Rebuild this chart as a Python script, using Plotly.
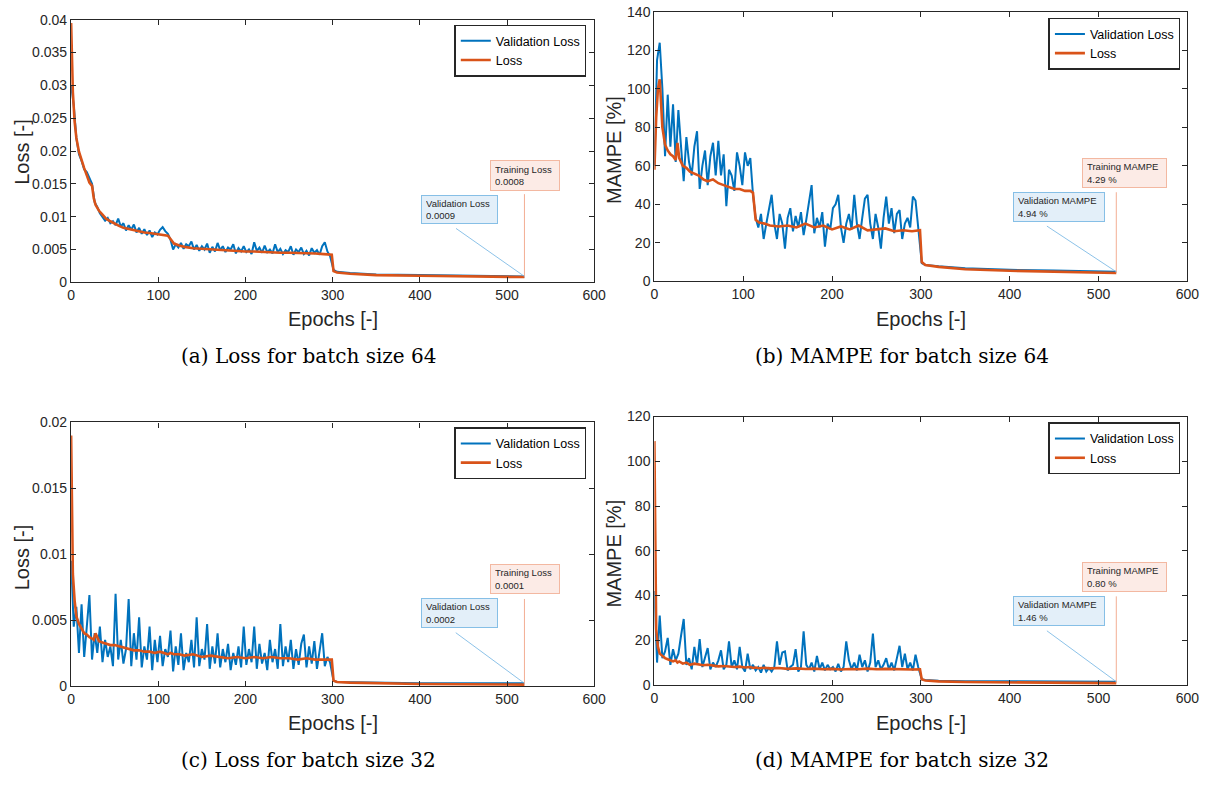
import plotly.graph_objects as go

# ---------------- data ----------------
VAL_STEP = 3  # validation samples every 3 epochs for epochs 0..297
POST_EPOCHS = [301, 305, 320, 350, 400, 450, 500, 520]

TRAIN_EPOCHS = [0, 1, 2, 4, 6, 9, 12, 15, 18, 21,
                24, 26, 28, 32, 36, 40, 45, 50, 55, 60,
                66, 72, 78, 84, 90, 96, 102, 108, 111, 114,
                118, 124, 130, 140, 150, 160, 170, 180, 190, 200,
                210, 220, 230, 240, 250, 260, 270, 280, 290, 299,
                301, 305, 320, 350, 400, 450, 500, 520]

# (a) Loss, batch 64
A_VAL_EARLY = [0.030, 0.027, 0.022, 0.0195, 0.0185, 0.0172, 0.0168, 0.0160, 0.0150, 0.0122,
               0.0115, 0.0105, 0.0100, 0.0094, 0.0098, 0.0090, 0.0093, 0.0087, 0.0097, 0.0085,
               0.0090, 0.0079, 0.0087, 0.0080, 0.0088, 0.0076, 0.0083, 0.0074, 0.0081, 0.0072,
               0.0079, 0.0069, 0.0076, 0.0073, 0.0080, 0.0084, 0.0078, 0.0074, 0.0065, 0.0050,
               0.0058, 0.0053, 0.0060, 0.0051, 0.0058, 0.0055, 0.0062, 0.0050, 0.0057, 0.0048,
               0.0055, 0.0050, 0.0059, 0.0045, 0.0054, 0.0047, 0.0060, 0.0049, 0.0055, 0.0046,
               0.0053, 0.0050, 0.0058, 0.0044, 0.0052, 0.0047, 0.0055, 0.0046, 0.0050, 0.0043,
               0.0061, 0.0048, 0.0053, 0.0045, 0.0056, 0.0046, 0.0050, 0.0044, 0.0058, 0.0046,
               0.0051, 0.0043, 0.0049, 0.0046, 0.0055, 0.0042, 0.0050, 0.0046, 0.0053, 0.0043,
               0.0048, 0.0041, 0.0052, 0.0045, 0.0049, 0.0042, 0.0055, 0.0061, 0.0047, 0.0040]
A_VAL_POST = [0.0019, 0.0016, 0.0014, 0.0012, 0.0011, 0.0010, 0.0009, 0.0009]
A_TRAIN = [0.0395, 0.033, 0.029, 0.0245, 0.022, 0.0199, 0.0185, 0.0174, 0.0163, 0.0152,
           0.0147, 0.0128, 0.0118, 0.0109, 0.0103, 0.0097, 0.0093, 0.0089, 0.0086, 0.0083,
           0.0081, 0.0079, 0.0078, 0.0076, 0.0075, 0.0074, 0.0073, 0.0072, 0.0071, 0.0066,
           0.0059, 0.0056, 0.0054, 0.0052, 0.0051, 0.0050, 0.0049, 0.0049, 0.0048, 0.0047,
           0.0047, 0.0046, 0.0046, 0.0045, 0.0045, 0.0045, 0.0044, 0.0044, 0.0043, 0.0042,
           0.0017, 0.0015, 0.0013, 0.0011, 0.0010, 0.0009, 0.00085, 0.0008]

# (b) MAMPE, batch 64
B_VAL_EARLY = [60, 115, 124, 100, 65, 97, 70, 92, 62, 89,
               70, 52, 75, 62, 55, 70, 78, 48, 60, 68,
               50, 65, 72, 55, 73, 55, 66, 39, 58, 55,
               47, 67, 60, 50, 67, 60, 64, 45, 33, 28,
               35, 22, 30, 38, 45, 30, 22, 35, 30, 17,
               33, 38, 26, 34, 28, 36, 24, 32, 40, 50,
               25, 33, 28, 36, 18, 30, 27, 38, 40, 45,
               28, 20, 30, 35, 27, 45, 30, 22, 33, 43,
               45, 30, 22, 35, 28, 17, 33, 44, 30, 38,
               25, 35, 37, 22, 30, 33, 28, 44, 42, 27]
B_VAL_POST = [9.5, 8.5, 7.8, 6.8, 6.0, 5.6, 5.2, 4.94]
B_TRAIN = [58, 72, 85, 100, 105, 80, 71, 68, 66, 65,
           63, 72, 64, 60, 59, 57, 56, 55, 53, 52,
           53, 51, 50, 49, 48, 48, 47, 47, 46, 32,
           30.5, 30, 29, 28.5, 29, 28, 30, 28, 29, 27,
           28.5, 27, 29, 26.5, 27, 27.5, 26, 26.5, 26, 26.5,
           10, 8.5, 7.5, 6.3, 5.5, 5.0, 4.5, 4.29]

# (c) Loss, batch 32
C_VAL_EARLY = [0.0095, 0.0045, 0.0060, 0.0025, 0.0062, 0.0022, 0.0045, 0.0069, 0.0020, 0.0040,
               0.0025, 0.0045, 0.0018, 0.0035, 0.0022, 0.0030, 0.0015, 0.0070, 0.0020, 0.0035,
               0.0017, 0.0028, 0.0066, 0.0015, 0.0040, 0.0020, 0.0052, 0.0014, 0.0030, 0.0020,
               0.0045, 0.0012, 0.0035, 0.0018, 0.0038, 0.0015, 0.0028, 0.0022, 0.0042, 0.0011,
               0.0030, 0.0016, 0.0040, 0.0012, 0.0025, 0.0018, 0.0035, 0.0014, 0.0052, 0.0015,
               0.0028, 0.0020, 0.0047, 0.0013, 0.0030, 0.0017, 0.0040, 0.0014, 0.0028, 0.0018,
               0.0032, 0.0012, 0.0025, 0.0016, 0.0030, 0.0014, 0.0045, 0.0016, 0.0028, 0.0018,
               0.0045, 0.0013, 0.0032, 0.0017, 0.0025, 0.0012, 0.0035, 0.0018, 0.0028, 0.0013,
               0.0047, 0.0015, 0.0030, 0.0018, 0.0035, 0.0013, 0.0028, 0.0016, 0.0032, 0.0039,
               0.0014, 0.0030, 0.0017, 0.0034, 0.0013, 0.0028, 0.0040, 0.0015, 0.0022, 0.0018]
C_VAL_POST = [0.0004, 0.0003, 0.00028, 0.00025, 0.0002, 0.0002, 0.0002, 0.0002]
C_TRAIN = [0.019, 0.0120, 0.0085, 0.0065, 0.0053, 0.0047, 0.0043, 0.0040, 0.0039, 0.0037,
           0.0036, 0.0035, 0.0040, 0.0034, 0.0033, 0.0032, 0.0031, 0.0031, 0.0030, 0.0029,
           0.0028, 0.0027, 0.0027, 0.0026, 0.0026, 0.0025, 0.0026, 0.0025, 0.0024, 0.0025,
           0.0024, 0.0024, 0.0023, 0.0024, 0.0022, 0.0023, 0.0022, 0.0021, 0.0022, 0.0021,
           0.0022, 0.0021, 0.0022, 0.0021, 0.0021, 0.0020, 0.0021, 0.0020, 0.0020, 0.0020,
           0.0004, 0.0003, 0.00025, 0.0002, 0.00015, 0.00013, 0.00011, 0.0001]

# (d) MAMPE, batch 32
D_VAL_EARLY = [42, 10, 31, 12, 15, 21, 9, 16, 11, 14,
               22, 29.5, 9, 12, 7, 17, 9, 20.5, 8, 12,
               16.5, 7, 10, 8, 11, 15.5, 7, 9, 19.5, 8,
               11, 7, 17, 8, 6, 14, 7, 9, 6.5, 8,
               5.5, 9, 6, 7.5, 6, 8, 19.5, 9, 14.5, 15,
               6.5, 8, 9, 16, 6, 8, 24, 9, 7, 10,
               6, 13, 7, 10, 6.5, 9, 7, 8, 6, 9.5,
               6, 8, 19.5, 11, 7, 10, 6.5, 13.5, 8, 11,
               6, 10, 23, 8, 11, 7, 9, 12, 7, 10,
               6.5, 12, 17.5, 8, 14, 7, 10, 6.5, 13.5, 8]
D_VAL_POST = [2.5, 2.2, 1.9, 1.7, 1.6, 1.55, 1.5, 1.46]
D_TRAIN = [109, 50, 25, 17, 14, 13, 12, 11.5, 11, 10.5,
           11, 10, 10.5, 9.5, 10, 9, 9.5, 9, 8.8, 9,
           8.5, 8.3, 8.5, 8.2, 8, 8.2, 7.8, 8, 7.6, 7.8,
           7.5, 7.7, 7.4, 7.6, 7.2, 7.4, 7.1, 7.3, 7, 7.2,
           6.9, 7.1, 7, 7.3, 7, 7.2, 7.0, 7.1, 6.9, 7.0,
           2.5, 2.0, 1.6, 1.3, 1.1, 0.95, 0.85, 0.80]

X_TICKS = [0, 100, 200, 300, 400, 500, 600]
LOSS64_TICKS = [0, 0.005, 0.01, 0.015, 0.02, 0.025, 0.03, 0.035, 0.04]
LOSS64_LABELS = ["0", "0.005", "0.01", "0.015", "0.02", "0.025", "0.03", "0.035", "0.04"]
MAMPE64_TICKS = [0, 20, 40, 60, 80, 100, 120, 140]
LOSS32_TICKS = [0, 0.005, 0.01, 0.015, 0.02]
LOSS32_LABELS = ["0", "0.005", "0.01", "0.015", "0.02"]
MAMPE32_TICKS = [0, 20, 40, 60, 80, 100, 120]

# ---------------- layout helpers ----------------
W, H = 1225, 787
BLUE, ORANGE = "#0072BD", "#D95319"
SANS = "Liberation Sans, Arial, sans-serif"
SERIF = "DejaVu Serif, serif"
DARK = "#262626"


def px(x):
    return x / W


def py(y):
    return 1 - y / H


panels = [
    dict(n="", val=A_VAL_EARLY, post=A_VAL_POST, train=A_TRAIN, yr=[0, 0.04],
         yt=LOSS64_TICKS, ytt=LOSS64_LABELS, xd=(68, 598), yd=(12, 280),
         ylab="Loss [-]", ylab_pos=(18, 147), xlab_pos=(333, 317),
         cap="(a) Loss for batch size 64", cap_pos=(309, 355),
         leg=(590, 17),
         tr_box=(492, 155, 562, 186), tr_txt="Training Loss<br>0.0008", tr_line=(520, 0.01343),
         va_box=(423, 191, 500, 220), va_txt="Validation Loss<br>0.0009", va_line=(441.5, 0.00821)),
    dict(n="2", val=B_VAL_EARLY, post=B_VAL_POST, train=B_TRAIN, yr=[0, 140],
         yt=MAMPE64_TICKS, ytt=[str(v) for v in MAMPE64_TICKS], xd=(659, 1199), yd=(4, 279),
         ylab="MAMPE [%]", ylab_pos=(618, 145), xlab_pos=(929, 317),
         cap="(b) MAMPE for batch size 64", cap_pos=(910, 355),
         leg=(1192, 10),
         tr_box=(1092, 153, 1177, 183), tr_txt="Training MAMPE<br>4.29 %", tr_line=(520, 46.3),
         va_box=(1022, 188, 1114, 218), va_txt="Validation MAMPE<br>4.94 %", va_line=(441.9, 28.7)),
    dict(n="3", val=C_VAL_EARLY, post=C_VAL_POST, train=C_TRAIN, yr=[0, 0.02],
         yt=LOSS32_TICKS, ytt=LOSS32_LABELS, xd=(68, 598), yd=(423, 692),
         ylab="Loss [-]", ylab_pos=(18, 561), xlab_pos=(333, 730),
         cap="(c) Loss for batch size 32", cap_pos=(309, 768),
         leg=(590, 428),
         tr_box=(492, 568, 562, 598), tr_txt="Training Loss<br>0.0001", tr_line=(520, 0.0066),
         va_box=(423, 602, 500, 632), va_txt="Validation Loss<br>0.0002", va_line=(441.2, 0.00404)),
    dict(n="4", val=D_VAL_EARLY, post=D_VAL_POST, train=D_TRAIN, yr=[0, 120],
         yt=MAMPE32_TICKS, ytt=[str(v) for v in MAMPE32_TICKS], xd=(659, 1199), yd=(417, 691),
         ylab="MAMPE [%]", ylab_pos=(618, 557), xlab_pos=(929, 730),
         cap="(d) MAMPE for batch size 32", cap_pos=(910, 768),
         leg=(1192, 423),
         tr_box=(1092, 565, 1177, 595), tr_txt="Training MAMPE<br>0.80 %", tr_line=(520, 39.6),
         va_box=(1022, 600, 1114, 630), va_txt="Validation MAMPE<br>1.46 %", va_line=(441.9, 24.2)),
]

fig = go.Figure()
layout = dict(width=W, height=H, margin=dict(l=0, r=0, t=0, b=0),
              paper_bgcolor="white", plot_bgcolor="white", showlegend=True)
annotations = []
shapes = []

axis_common = dict(showline=True, linecolor=DARK, linewidth=1.3, mirror="ticks",
                   ticks="inside", ticklen=5, tickwidth=1.2, tickcolor=DARK,
                   showgrid=False, zeroline=False,
                   tickfont=dict(family=SANS, size=14, color=DARK))

for p in panels:
    n = p["n"]
    xref = "x" + n
    yref = "y" + n
    leg_name = "legend" + n
    val_x = [VAL_STEP * i for i in range(len(p["val"]))] + POST_EPOCHS
    val_y = list(p["val"]) + list(p["post"])

    fig.add_trace(go.Scatter(x=val_x, y=val_y, mode="lines", name="Validation Loss",
                             line=dict(color=BLUE, width=2), xaxis=xref, yaxis=yref,
                             legend=leg_name))
    fig.add_trace(go.Scatter(x=TRAIN_EPOCHS, y=p["train"], mode="lines", name="Loss",
                             line=dict(color=ORANGE, width=2.6), xaxis=xref, yaxis=yref,
                             legend=leg_name))

    layout["xaxis" + n] = dict(axis_common, domain=[px(p["xd"][0]), px(p["xd"][1])],
                               anchor=yref, range=[0, 600], tickvals=X_TICKS,
                               ticktext=[str(v) for v in X_TICKS])
    layout["yaxis" + n] = dict(axis_common, domain=[py(p["yd"][1]), py(p["yd"][0])],
                               anchor=xref, range=p["yr"], tickvals=p["yt"], ticktext=p["ytt"])

    layout[leg_name] = dict(x=px(p["leg"][0]), y=py(p["leg"][1]), xanchor="right", yanchor="top",
                            bgcolor="white", bordercolor=DARK, borderwidth=1.5,
                            font=dict(family=SANS, size=12.5, color="black"),
                            tracegroupgap=0, itemwidth=30)

    # axis titles & caption
    annotations.append(dict(text=p["ylab"], x=px(p["ylab_pos"][0]), y=py(p["ylab_pos"][1]),
                            xref="paper", yref="paper", showarrow=False, textangle=-90,
                            xanchor="center", yanchor="middle",
                            font=dict(family=SANS, size=20, color=DARK)))
    annotations.append(dict(text="Epochs [-]", x=px(p["xlab_pos"][0]), y=py(p["xlab_pos"][1]),
                            xref="paper", yref="paper", showarrow=False,
                            xanchor="center", yanchor="middle",
                            font=dict(family=SANS, size=20, color=DARK)))
    annotations.append(dict(text=p["cap"], x=px(p["cap_pos"][0]), y=py(p["cap_pos"][1]),
                            xref="paper", yref="paper", showarrow=False,
                            xanchor="center", yanchor="middle",
                            font=dict(family=SERIF, size=20, color="black")))

    # data-tip boxes
    for box, txt, fill, border in ((p["tr_box"], p["tr_txt"], "#FCEBE6", "#F3B8A1"),
                                   (p["va_box"], p["va_txt"], "#E3EFF9", "#86BFE6")):
        x0, y0, x1, y1 = box
        annotations.append(dict(text=txt, x=px(x0), y=py(y0), xref="paper", yref="paper",
                                xanchor="left", yanchor="top", showarrow=False, align="left",
                                valign="middle", width=(x1 - x0) - 10, height=(y1 - y0) - 10,
                                borderpad=4, borderwidth=1, bordercolor=border, bgcolor=fill,
                                font=dict(family=SANS, size=9.5, color=DARK)))
    # pointer lines to last epoch
    last_x = TRAIN_EPOCHS[-1]
    shapes.append(dict(type="line", xref=xref, yref=yref, x0=p["tr_line"][0], y0=p["tr_line"][1],
                       x1=last_x, y1=p["train"][-1], line=dict(color="#F3AE93", width=1)))
    shapes.append(dict(type="line", xref=xref, yref=yref, x0=p["va_line"][0], y0=p["va_line"][1],
                       x1=POST_EPOCHS[-1], y1=p["post"][-1], line=dict(color="#6EB2E2", width=0.8)))

layout["annotations"] = annotations
layout["shapes"] = shapes
fig.update_layout(**layout)
fig.write_html("out.html")
